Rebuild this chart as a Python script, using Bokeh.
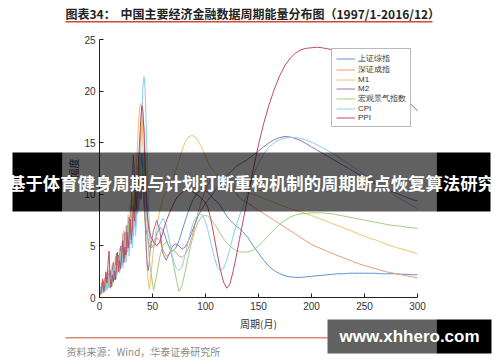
from bokeh.plotting import figure
from bokeh.models import Range1d, FixedTicker, Label, BoxAnnotation, Legend, LegendItem
from bokeh.embed import file_html
from bokeh.resources import INLINE

# ---------------- data ----------------
X = list(range(1, 49)) + list(range(51, 133, 3)) + list(range(135, 301, 5))

sh = [0.3,1.2,0.6,1.6,0.8,1.4,2.0,1.0,1.8,0.9, 2.4,1.5,2.8,1.7,3.3,2.2,3.0,4.0,2.6,3.6,
      4.7,3.2,4.2,5.4,3.9,5.1,6.0,4.6,6.4,5.2, 7.3,6.0,8.6,6.8,9.5,8.2,11.0,9.5,12.5,14.0,
      12.0,9.0,7.5,6.6,6.0,5.5,5.0,4.8,
      5.0,6.2,6.8,6.5,5.6,4.8,4.5,4.8,5.5,6.5,7.5,8.4,9.2,9.8,10.2,10.4,10.4,10.2,9.9,9.5,9.3,8.9,8.4,7.9,7.5,7.2,6.9,6.7,
      6.4,5.8,5.0,4.3,3.6,3.0,2.6,2.3,2.1,2.0,1.95,1.95,2.0,2.05,2.1,2.15,2.2,2.25,2.3,2.3,2.35,2.35,2.35,2.35,2.35,2.35,2.3,2.3,2.3,2.3,2.25,2.25,2.2,2.2]
sz = [0.8,0.4,1.3,0.7,1.9,1.0,1.6,2.4,1.3,2.1, 1.6,3.0,2.0,3.4,2.4,3.8,2.7,3.5,4.6,3.1,
      4.0,6.2,3.8,4.8,5.9,4.4,6.6,5.5,7.4,6.0, 8.0,7.0,9.6,8.0,10.8,9.4,12.8,14.5,16.0,16.8,
      17.2,16.5,14.0,11.0,8.5,7.0,6.0,5.2,
      4.8,5.8,5.5,4.6,4.0,4.2,4.6,4.4,4.0,3.9,4.2,4.8,5.8,7.0,8.2,9.3,10.2,10.9,11.4,11.7,11.8,11.7,11.5,11.2,10.9,10.5,10.1,9.7,
      9.45,9.13,8.8,8.47,8.13,7.8,7.47,7.13,6.8,6.47,6.13,5.8,5.47,5.13,4.9,4.7,4.45,4.25,4.05,3.85,3.65,3.45,3.25,3.1,2.95,2.8,2.65,2.5,2.4,2.3,2.2,2.1,2.0,1.9]
m1 = [0.5,1.5,0.9,0.4,1.6,2.2,1.1,1.9,2.7,1.4, 2.2,3.2,1.8,2.9,4.0,2.6,3.7,2.9,4.8,3.5,
      5.3,4.1,6.5,4.6,6.9,5.5,8.0,6.1,8.9,7.0, 9.8,8.2,11.0,9.4,13.0,15.2,17.2,18.5,18.8,17.8,
      15.0,11.5,8.0,5.0,2.8,1.4,0.8,1.6,
      4.8,6.8,8.5,9.6,10.3,10.8,11.4,12.3,13.3,14.3,15.1,15.55,15.7,15.6,15.2,14.6,13.9,13.2,12.6,12.2,11.9,11.6,11.4,11.2,11.0,10.8,10.6,10.5,
      10.4,10.2,10.0,9.8,9.6,9.4,9.2,9.0,8.8,8.6,8.45,8.3,8.1,7.95,7.75,7.55,7.35,7.15,6.95,6.75,6.55,6.35,6.15,5.95,5.75,5.6,5.4,5.2,5.0,4.85,4.7,4.55,4.4,4.25]
m2 = [1.0,0.5,1.4,1.0,0.6,1.7,1.2,2.3,1.5,2.6, 1.9,2.6,3.4,2.2,3.0,4.3,2.9,4.1,3.4,5.0,
      3.7,5.1,4.4,6.3,5.0,7.0,5.6,7.8,6.3,9.2, 11.5,13.8,12.0,9.0,8.0,10.0,12.6,11.0,9.5,10.5,
      12.0,10.0,7.5,5.0,3.2,2.6,3.5,4.8,
      6.5,7.5,6.4,4.2,3.6,4.3,5.0,5.2,5.0,4.7,4.9,5.5,6.3,7.1,7.9,8.5,9.0,9.4,9.8,10.2,10.6,11.0,11.4,11.8,12.1,12.4,12.7,12.9,
      13.1,13.4,13.8,14.2,14.6,15.0,15.3,15.5,15.6,15.55,15.4,15.2,14.9,14.6,14.3,14.0,13.7,13.4,13.1,12.8,12.5,12.2,11.9,11.6,11.3,11.0,10.8,10.5,10.3,10.1,9.9,9.7,9.5,9.35]
hg = [0.2,0.9,0.5,1.3,0.7,1.0,1.8,0.9,2.2,1.3, 2.0,1.1,2.5,3.1,1.9,3.4,2.3,3.9,2.8,4.5,
      3.2,4.9,5.6,4.0,6.2,4.7,7.2,5.4,7.8,6.4, 9.0,7.2,10.2,8.6,11.4,9.8,12.0,13.5,12.2,10.8,
      12.0,13.2,11.5,9.0,6.8,5.0,3.8,2.8,
      0.7,2.2,4.0,5.1,5.4,4.9,3.6,2.0,0.6,1.2,2.6,4.1,5.4,6.5,7.3,7.8,7.95,7.9,7.6,7.2,6.7,6.2,5.7,5.3,5.0,4.75,4.55,4.45,
      4.4,4.4,4.6,5.0,5.5,6.1,6.6,7.1,7.5,7.8,8.0,8.1,8.15,8.2,8.2,8.2,8.15,8.1,8.0,7.9,7.8,7.7,7.6,7.5,7.4,7.3,7.2,7.1,7.0,6.95,6.9,6.8,6.75,6.7]
cpi = [0.6,1.4,0.5,1.1,0.9,1.8,0.7,1.5,2.2,1.0, 1.9,2.6,1.4,2.3,3.1,1.8,2.9,3.6,2.4,3.3,
       4.4,2.9,3.8,5.0,3.4,4.6,5.8,4.0,5.5,6.9, 4.8,6.3,8.2,6.0,7.5,9.6,8.5,10.0,14.0,17.6,
       20.5,21.4,20.2,17.0,13.0,9.5,7.0,5.8,
       5.3,6.0,7.1,7.7,7.0,5.5,3.9,2.9,2.6,3.0,4.2,5.6,6.8,7.6,8.0,8.1,7.6,6.6,5.3,4.0,3.0,2.6,2.8,3.6,4.7,5.9,7.0,7.9,
       8.7,10.3,11.8,13.0,13.9,14.6,15.0,15.3,15.45,15.5,15.5,15.4,15.25,15.05,14.8,14.55,14.25,13.95,13.65,13.3,12.95,12.6,12.25,11.9,11.55,11.2,10.85,10.5,10.15,9.8,9.5,9.2,8.9,8.6]
ppi = [0.3,0.9,1.8,0.6,1.2,2.5,1.4,3.2,4.5,1.8, 1.0,2.2,1.5,2.6,1.7,3.0,4.4,2.5,3.6,2.8,
       4.2,5.5,3.4,4.9,4.1,6.3,4.8,5.9,7.6,5.6, 7.0,8.8,7.4,10.2,8.6,11.5,13.5,15.5,17.4,18.6,
       18.0,16.0,12.8,10.0,8.2,7.2,6.5,6.0,
       5.4,5.0,5.4,6.4,7.4,8.2,8.9,9.5,9.9,10.2,10.35,10.4,10.3,10.1,9.9,9.6,9.3,8.8,7.6,6.0,4.3,2.7,1.5,0.9,1.3,2.5,4.0,5.6,
       7.2,9.8,12.4,14.8,16.9,18.7,20.2,21.5,22.5,23.2,23.7,24.0,24.15,24.2,24.25,24.2,24.1,24.0,23.8,23.6,23.3,23.0,22.7,22.3,21.9,21.5,21.1,20.7,20.3,19.9,19.5,19.1,18.6,18.1]

names = ["上证综指", "深证成指", "M1", "M2", "宏观景气指数", "CPI", "PPI"]
series = [sh, sz, m1, m2, hg, cpi, ppi]
colors = ["#5e95cc", "#ec9a76", "#f3c46c", "#9d72b2", "#a6cc7c", "#8ccfee", "#bf4b68"]

x_ticks = [0, 50, 100, 150, 200, 250, 300]
y_ticks = [0, 5, 10, 15, 20, 25]
x_span = (0, 300)
y_span = (0, 25)

# ---------------- layout: the frame covers the whole canvas ----------------
W, H = 500, 362
FX0, FX1, FY0, FY1 = 99, 417, 297, 39      # canvas pixels of the chart area
def px(v):
    return (v - FX0) * (x_span[1] - x_span[0]) / (FX1 - FX0)
def py(v):
    return (FY0 - v) * (y_span[1] - y_span[0]) / (FY0 - FY1)

p = figure(width=W, height=H, output_backend="svg", toolbar_location=None,
           x_range=Range1d(px(0), px(W)), y_range=Range1d(py(H), py(0)),
           min_border=0, min_border_left=0, min_border_right=0,
           min_border_top=0, min_border_bottom=0)
p.outline_line_color = None
p.background_fill_color = "white"
p.border_fill_color = "white"
p.xgrid.visible = False
p.ygrid.visible = False

xa, ya = p.xaxis[0], p.yaxis[0]
xa.fixed_location = y_span[0]
ya.fixed_location = x_span[0]
xa.bounds = x_span
ya.bounds = y_span
for ax in (xa, ya):
    ax.axis_line_color = "#222222"
    ax.major_tick_line_color = "#222222"
    ax.major_tick_in = 4
    ax.major_tick_out = 0
    ax.minor_tick_line_color = None
    ax.major_label_text_font = "Liberation Sans"
    ax.major_label_text_font_size = "10px"
    ax.major_label_text_color = "#333333"
    ax.major_label_standoff = 4
    ax.axis_label_text_font = "Noto Sans CJK SC"
    ax.axis_label_text_font_size = "10px"
    ax.axis_label_text_font_style = "normal"
    ax.axis_label_text_color = "#333333"
xa.axis_label_standoff = 3
ya.axis_label_standoff = 0
xa.ticker = FixedTicker(ticks=x_ticks)
ya.ticker = FixedTicker(ticks=y_ticks)
xa.axis_label = "周期(月)"
ya.axis_label = "幅度"

items = []
for name, ys, c in zip(names, series, colors):
    r = p.line(X, ys, line_color=c, line_width=1)
    items.append(LegendItem(label=name, renderers=[r]))

legend = Legend(items=items, location=(331, H - 127))
legend.label_text_font = "Liberation Sans"
legend.label_text_font_size = "8px"
legend.label_text_line_height = 0.9
legend.label_text_color = "#333333"
legend.label_height = 9
legend.glyph_height = 9
legend.glyph_width = 19
legend.label_standoff = 3
legend.spacing = 0
legend.padding = 4
legend.margin = 0
legend.border_line_color = "#777777"
legend.border_line_width = 1
legend.background_fill_alpha = 1
p.add_layout(legend)

def box(l, r, t, b, color, alpha=1.0):
    p.add_layout(BoxAnnotation(left=px(l), right=px(r), top=py(t), bottom=py(b),
                               fill_color=color, fill_alpha=alpha, line_alpha=0,
                               level="overlay"))

def label(x, y, text, size, color, font="Noto Sans CJK SC", style="normal", align="left"):
    p.add_layout(Label(x=px(x), y=py(y), text=text, text_font=font, text_font_size=size,
                       text_color=color, text_font_style=style, text_align=align,
                       text_baseline="middle", level="overlay"))

# title and rules
label(65, 12.5, "图表34：", "12px", "#222222", style="bold")
label(120, 12.5, "中国主要经济金融数据周期能量分布图（1997/1-2016/12）", "12px", "#222222", style="bold")
box(65, 432, 20.5, 22, "#d6453a")
box(65, 327, 336.5, 338, "#d98a7a")
label(66, 351, "资料来源：Wind，华泰证券研究所", "10px", "#8c8c8c")

# banner
box(12, 62, 152, 211, "black")
box(62, 436, 152, 211, "black", 0.62)
box(436, 490, 152, 211, "black")
label(251, 182, "基于体育健身周期与计划打断重构机制的周期断点恢复算法研究", "17.4px", "white", style="bold", align="center")

# watermark
box(327, 436, 319, 353, "black", 0.62)
box(436, 491, 319, 353, "black")
label(409, 336, "www.xhhero.com", "17px", "white", font="Liberation Sans", style="bold", align="center")

open("out.html", "w").write(file_html(p, INLINE))
